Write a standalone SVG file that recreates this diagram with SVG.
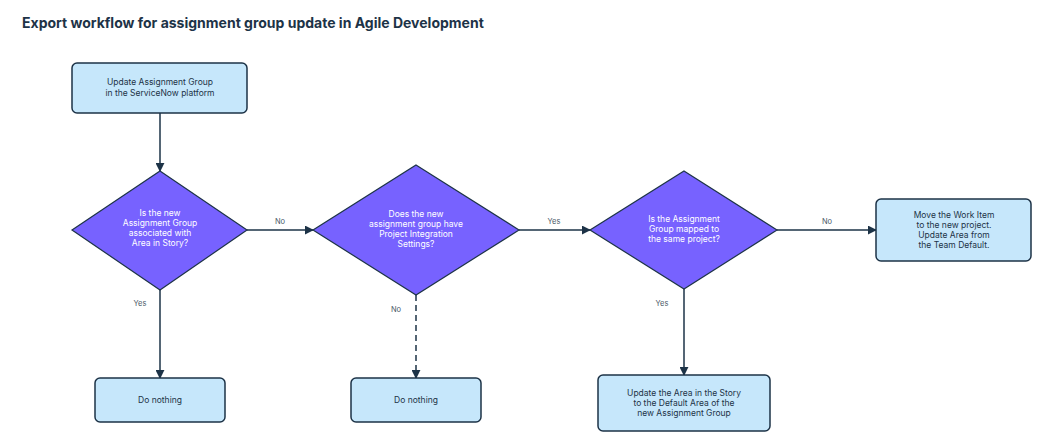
<svg xmlns="http://www.w3.org/2000/svg" width="1038" height="446" viewBox="0 0 1038 446">
<style>
.box{fill:#c6e7fb;stroke:#1d3347;stroke-width:1.5}
.dia{fill:#7762ff;stroke:#1d3347;stroke-width:1.2}
.t{font-family:Inter,"Liberation Sans",sans-serif;font-size:8.5px;fill:#1d3347;text-anchor:middle}
.w{font-family:Inter,"Liberation Sans",sans-serif;font-size:8.5px;fill:#ffffff;text-anchor:middle}
.l{font-family:Inter,"Liberation Sans",sans-serif;font-size:7.5px;fill:#4a5868;text-anchor:middle}
.c{stroke:#1d3347;stroke-width:1.5;fill:none;marker-end:url(#a)}
</style>
<defs><marker id="a" viewBox="0 0 10 10" refX="9" refY="5" markerWidth="6" markerHeight="6" orient="auto"><path d="M0,0L10,5L0,10z" fill="#1d3347"/></marker></defs>
<rect width="1038" height="446" fill="#fff"/>
<text x="22" y="28" font-family="Inter,'Liberation Sans',sans-serif" font-size="14" font-weight="bold" fill="#1d3347">Export workflow for assignment group update in Agile Development</text>
<g id="connectors">
<path class="c" d="M160,113V171"/>
<path class="c" d="M247,230H313"/>
<path class="c" d="M519,230H590"/>
<path class="c" d="M777,230H876"/>
<path class="c" d="M160,290V378"/>
<path class="c" d="M416,295V378" stroke-dasharray="6,4"/>
<path class="c" d="M684,289V375"/>
<text class="l" x="280" y="224">No</text>
<text class="l" x="554" y="224">Yes</text>
<text class="l" x="827" y="224">No</text>
<text class="l" x="140" y="306">Yes</text>
<text class="l" x="396" y="312">No</text>
<text class="l" x="662" y="306">Yes</text>
</g>
<g id="n1"><rect class="box" x="72" y="63" width="175" height="50" rx="5"/><text class="t" x="160" y="85">Update Assignment Group</text><text class="t" x="160" y="96">in the ServiceNow platform</text></g>
<g id="d1"><path class="dia" d="M160,171L247,230L160,290L72,230z"/><text class="w" x="160" y="216">Is the new</text><text class="w" x="160" y="226">Assignment Group</text><text class="w" x="160" y="236">associated with</text><text class="w" x="160" y="246">Area in Story?</text></g>
<g id="d2"><path class="dia" d="M416,165L519,230L416,295L313,230z"/><text class="w" x="416" y="217">Does the new</text><text class="w" x="416" y="227">assignment group have</text><text class="w" x="416" y="237">Project Integration</text><text class="w" x="416" y="247">Settings?</text></g>
<g id="d3"><path class="dia" d="M684,171L777,230L684,289L590,230z"/><text class="w" x="684" y="222">Is the Assignment</text><text class="w" x="684" y="232">Group mapped to</text><text class="w" x="684" y="242">the same project?</text></g>
<g id="n2"><rect class="box" x="876" y="199" width="155" height="62" rx="5"/><text class="t" x="954" y="218">Move the Work Item</text><text class="t" x="954" y="228">to the new project.</text><text class="t" x="954" y="238">Update Area from</text><text class="t" x="954" y="248">the Team Default.</text></g>
<g id="n3"><rect class="box" x="95" y="378" width="130" height="44" rx="5"/><text class="t" x="160" y="403">Do nothing</text></g>
<g id="n4"><rect class="box" x="351" y="378" width="130" height="44" rx="5"/><text class="t" x="416" y="403">Do nothing</text></g>
<g id="n5"><rect class="box" x="598" y="375" width="172" height="56" rx="5"/><text class="t" x="684" y="396">Update the Area in the Story</text><text class="t" x="684" y="406">to the Default Area of the</text><text class="t" x="684" y="416">new Assignment Group</text></g>
</svg>
